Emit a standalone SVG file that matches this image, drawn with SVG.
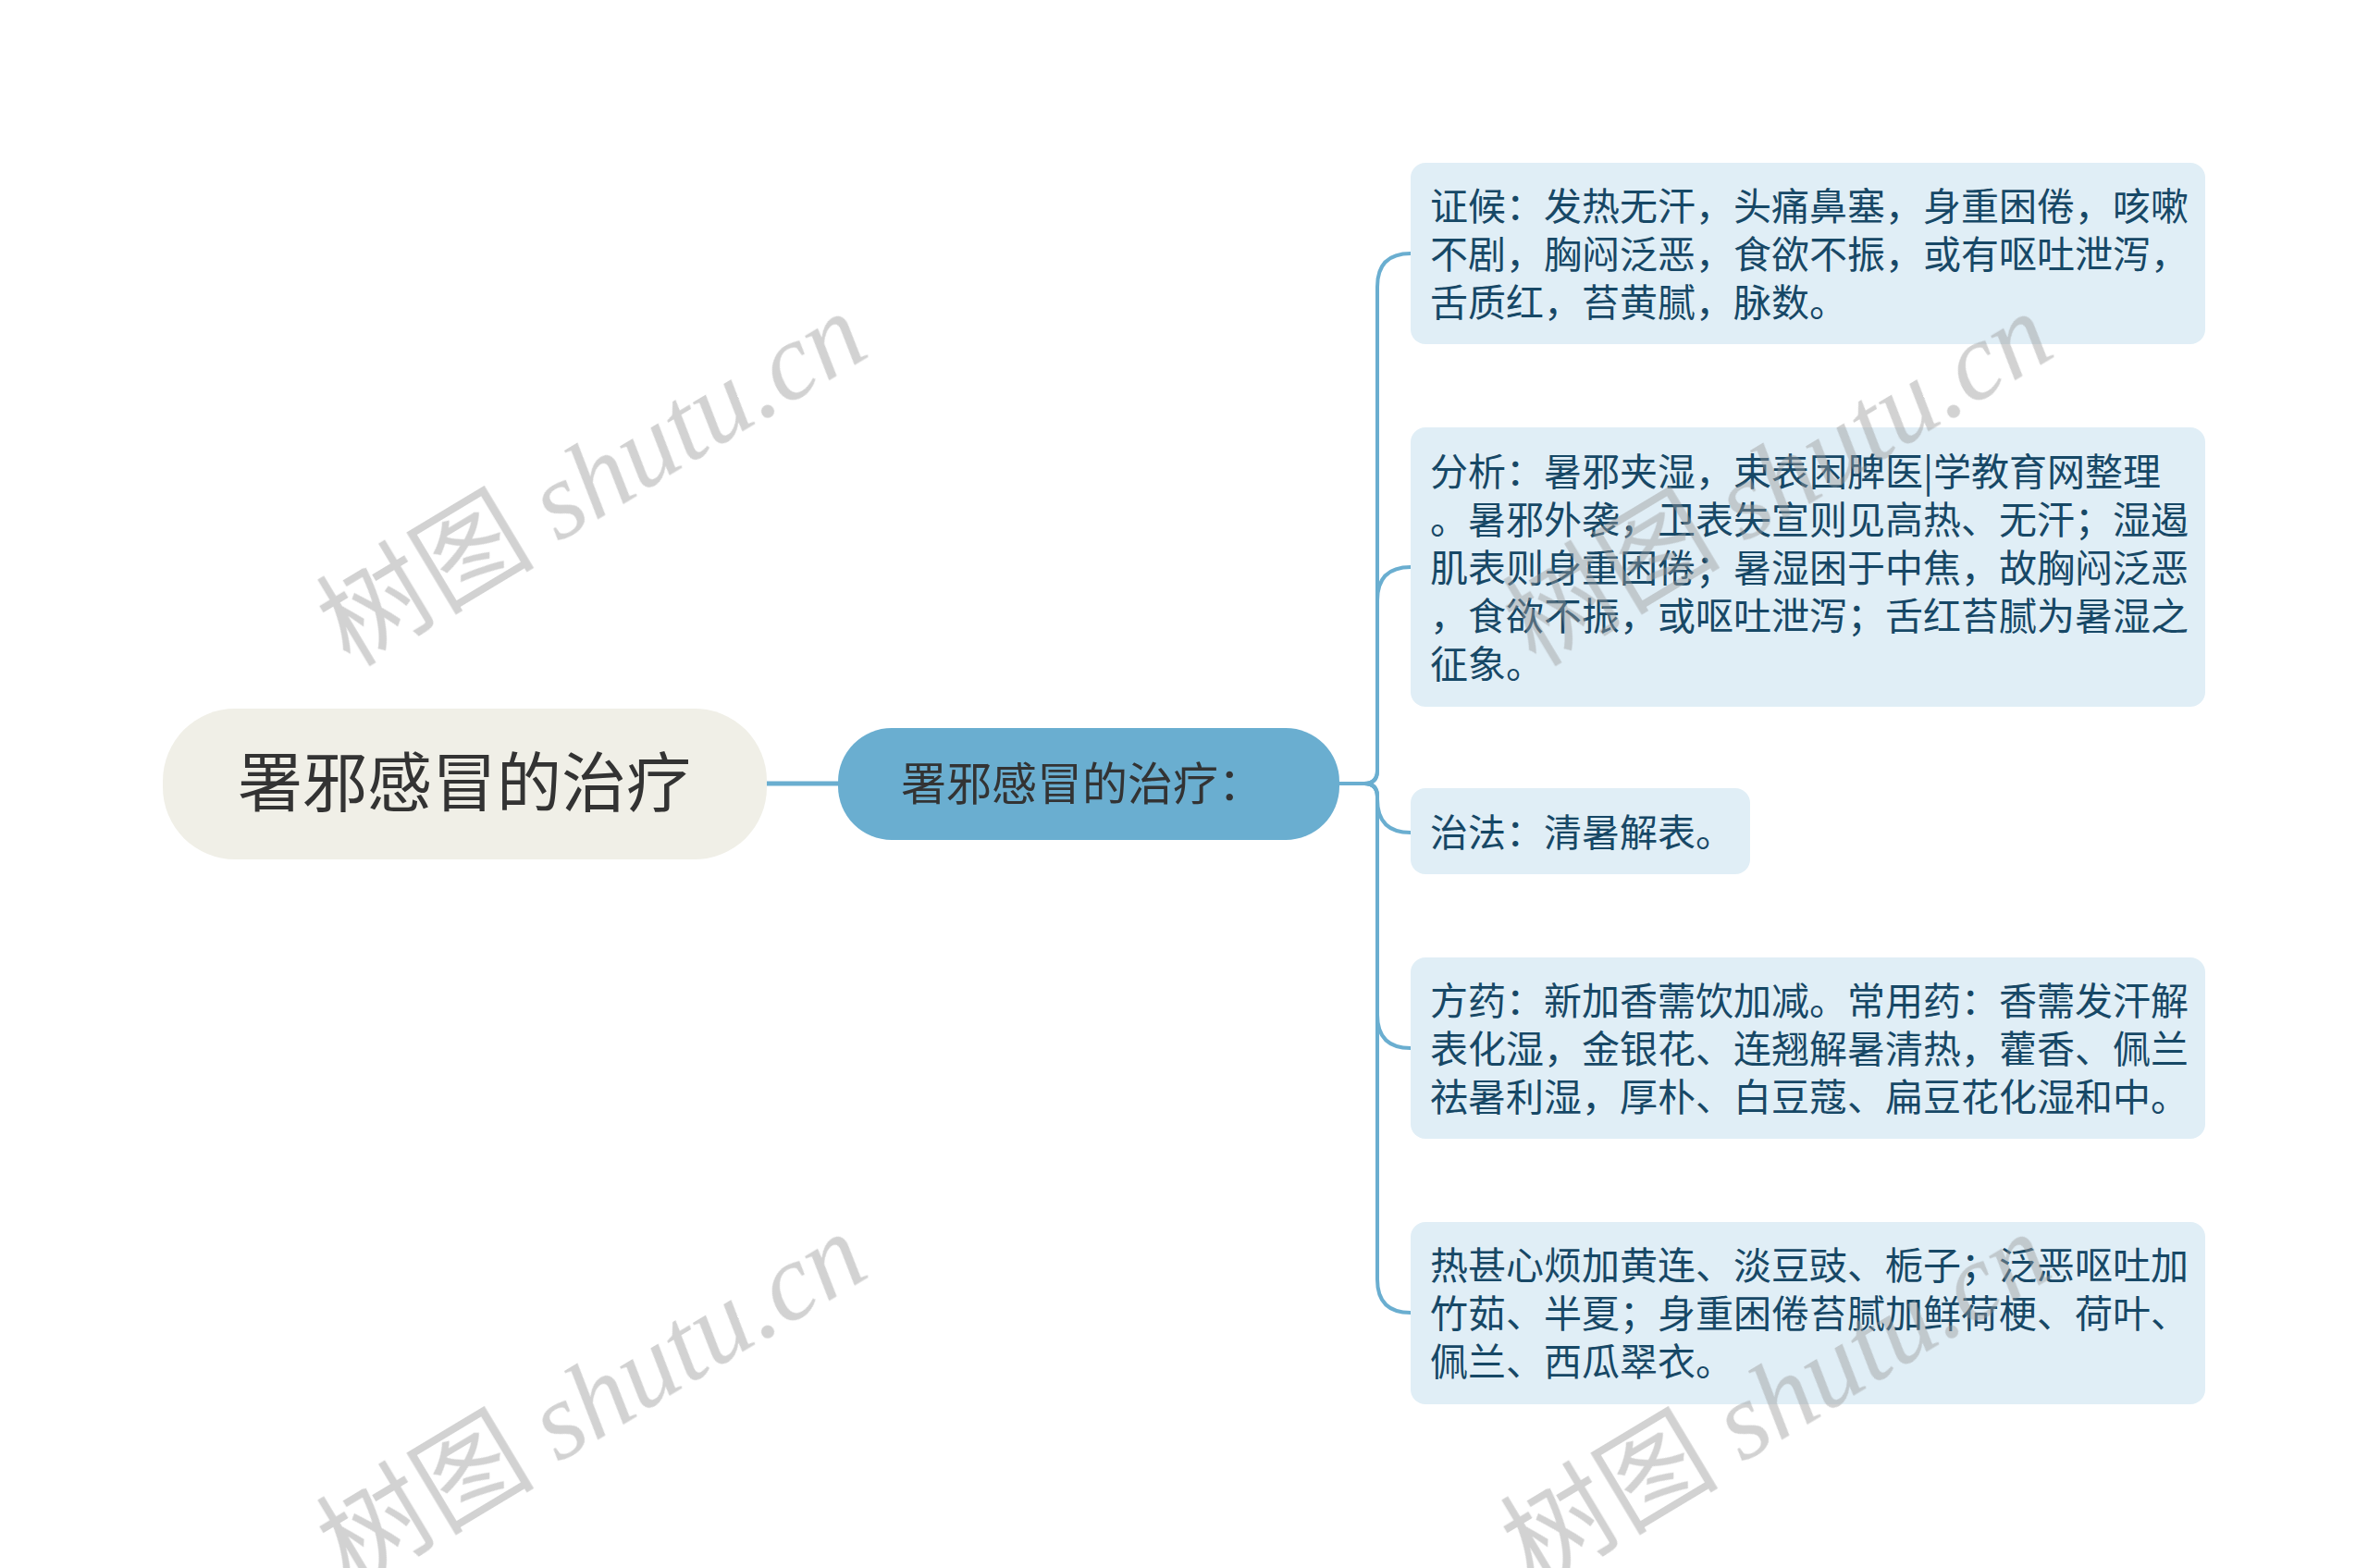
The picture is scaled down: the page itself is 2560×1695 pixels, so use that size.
<svg xmlns="http://www.w3.org/2000/svg" width="2560" height="1695" viewBox="0 0 2560 1695">
<style>
.cjk{font-family:"Noto Sans CJK SC","Noto Sans",sans-serif}
.child rect{fill:#e0eef6}
.child text{fill:#174866;font-size:41px}
.conn{fill:none;stroke:#6aaed0;stroke-width:4;stroke-linecap:round}
.wm{font-size:118px;fill:#9a9a9a;opacity:0.45}
.wm .lat{font-family:"Liberation Serif",serif;font-style:italic}
</style>
<rect width="2560" height="1695" fill="#ffffff"/>
<g id="connectors">
<line x1="829" y1="847" x2="906" y2="847" stroke="#6aaed0" stroke-width="5"/>
<path class="conn" d="M1448,847 L1475,847 Q1489,847 1489,833 L1489,310 Q1489,274 1525,274"/>
<path class="conn" d="M1448,847 L1475,847 Q1489,847 1489,833 L1489,649 Q1489,613 1525,613"/>
<path class="conn" d="M1448,847 L1475,847 Q1489,847 1489,861 L1489,864 Q1489,900 1525,900"/>
<path class="conn" d="M1448,847 L1475,847 Q1489,847 1489,861 L1489,1097 Q1489,1133 1525,1133"/>
<path class="conn" d="M1448,847 L1475,847 Q1489,847 1489,861 L1489,1383 Q1489,1419 1525,1419"/>
</g>
<g id="root">
<rect x="176" y="766" width="653" height="163" rx="78" fill="#f0efe7"/>
<text class="cjk" x="502" y="872" font-size="70" fill="#333333" text-anchor="middle">署邪感冒的治疗</text>
</g>
<g id="main">
<rect x="906" y="787" width="542" height="121" rx="58" fill="#6aaed0"/>
<text class="cjk" x="1170" y="865" font-size="49" fill="#333333" text-anchor="middle">署邪感冒的治疗：</text>
</g>
<g id="child1" class="child cjk">
<rect x="1525" y="176" width="859" height="196" rx="16"/>
<text x="1546" y="238">证候：发热无汗，头痛鼻塞，身重困倦，咳嗽</text>
<text x="1546" y="290">不剧，胸闷泛恶，食欲不振，或有呕吐泄泻，</text>
<text x="1546" y="342">舌质红，苔黄腻，脉数。</text>
</g>
<g id="child2" class="child cjk">
<rect x="1525" y="462" width="859" height="302" rx="16"/>
<text x="1546" y="525">分析：暑邪夹湿，束表困脾医|学教育网整理</text>
<text x="1546" y="577">。暑邪外袭，卫表失宣则见高热、无汗；湿遏</text>
<text x="1546" y="629">肌表则身重困倦；暑湿困于中焦，故胸闷泛恶</text>
<text x="1546" y="681">，食欲不振，或呕吐泄泻；舌红苔腻为暑湿之</text>
<text x="1546" y="733">征象。</text>
</g>
<g id="child3" class="child cjk">
<rect x="1525" y="852" width="367" height="93" rx="16"/>
<text x="1546" y="915">治法：清暑解表。</text>
</g>
<g id="child4" class="child cjk">
<rect x="1525" y="1035" width="859" height="196" rx="16"/>
<text x="1546" y="1097">方药：新加香薷饮加减。常用药：香薷发汗解</text>
<text x="1546" y="1149">表化湿，金银花、连翘解暑清热，藿香、佩兰</text>
<text x="1546" y="1201">祛暑利湿，厚朴、白豆蔻、扁豆花化湿和中。</text>
</g>
<g id="child5" class="child cjk">
<rect x="1525" y="1321" width="859" height="197" rx="16"/>
<text x="1546" y="1383">热甚心烦加黄连、淡豆豉、栀子；泛恶呕吐加</text>
<text x="1546" y="1435">竹茹、半夏；身重困倦苔腻加鲜荷梗、荷叶、</text>
<text x="1546" y="1487">佩兰、西瓜翠衣。</text>
</g>
<g id="watermarks" class="wm cjk" text-anchor="middle">
<text transform="translate(640,518) rotate(-31)" y="40">树图 <tspan class="lat">shutu.cn</tspan></text>
<text transform="translate(1922,518) rotate(-31)" y="40">树图 <tspan class="lat">shutu.cn</tspan></text>
<text transform="translate(640,1513) rotate(-31)" y="40">树图 <tspan class="lat">shutu.cn</tspan></text>
<text transform="translate(1920,1513) rotate(-31)" y="40">树图 <tspan class="lat">shutu.cn</tspan></text>
</g>
</svg>
